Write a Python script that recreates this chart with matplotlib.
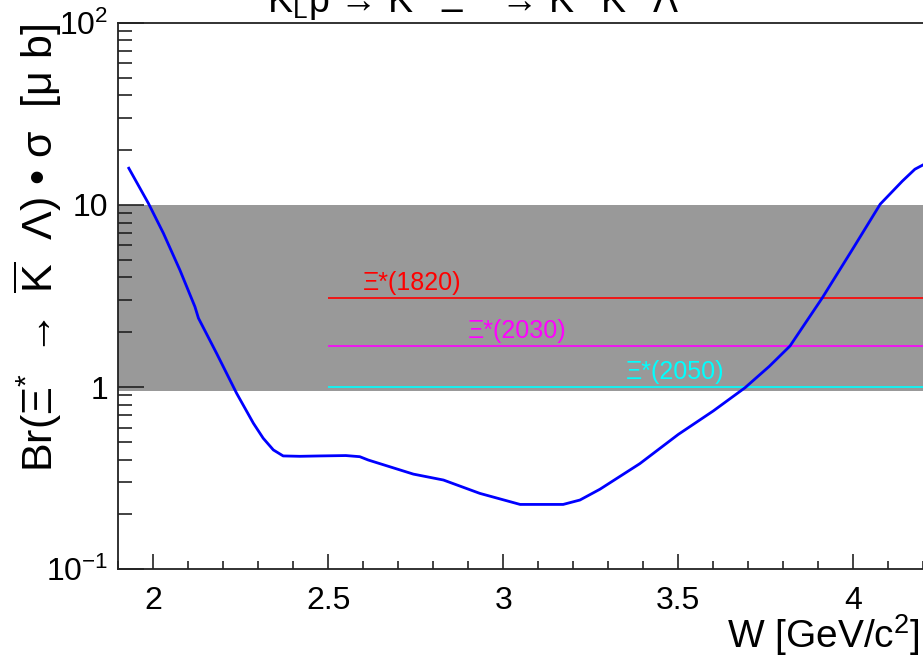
import matplotlib
matplotlib.use("Agg")
import matplotlib.pyplot as plt
from matplotlib.ticker import FixedLocator, NullFormatter, MultipleLocator, FixedFormatter

plt.rcParams['font.family'] = ['Liberation Sans', 'DejaVu Sans']
plt.rcParams['mathtext.fontset'] = 'custom'
plt.rcParams['mathtext.rm'] = 'Liberation Sans'
plt.rcParams['mathtext.it'] = 'Liberation Sans:italic'
plt.rcParams['mathtext.bf'] = 'Liberation Sans:bold'

# ---- data ----
W = [1.93, 1.986, 2.029, 2.076, 2.119, 2.129, 2.181, 2.238, 2.286, 2.314, 2.343,
     2.371, 2.419, 2.476, 2.55, 2.59, 2.614, 2.743, 2.829, 2.933, 3.048, 3.171,
     3.219, 3.276, 3.39, 3.50, 3.60, 3.69, 3.76, 3.819, 3.911, 4.0, 4.077, 4.14, 4.176, 4.21]
xsec = [15.9, 10.2, 6.98, 4.39, 2.76, 2.39, 1.53, 0.925, 0.633, 0.524, 0.452,
        0.419, 0.417, 0.419, 0.421, 0.415, 0.398, 0.333, 0.309, 0.261, 0.227, 0.227,
        0.240, 0.275, 0.38, 0.55, 0.74, 0.99, 1.3, 1.68, 3.08, 5.8, 10.1, 13.5, 15.7, 17.0]

states = ["Ξ*(1820)", "Ξ*(2030)", "Ξ*(2050)"]
state_vals = [3.08, 1.68, 1.0]
state_colors = ["#ff0000", "#ff00ff", "#00ffff"]
state_label_x = [2.6, 2.9, 3.35]
line_start = 2.5

band_low, band_high = 0.95, 10.0

xmin, xmax = 1.9, 4.4
ymin, ymax = 0.1, 100.0

ytick_vals = [0.1, 1, 10, 100]
ytick_labels = [r"$\mathregular{10^{-1}}$", "1", "10", r"$\mathregular{10^{2}}$"]

# ---- figure ----
fig = plt.figure(figsize=(9.23, 6.57), dpi=100)
L = 118.3 / 923
B = (657 - 569.3) / 657
H = (569.3 - 22.7) / 657
Wd = (xmax - xmin) * 350.0 / 923
ax = fig.add_axes([L, B, Wd, H])

ax.set_yscale('log')
ax.set_xlim(xmin, xmax)
ax.set_ylim(ymin, ymax)

ax.axhspan(band_low, band_high, color='#999999', lw=0, zorder=1)

for v, c in zip(state_vals, state_colors):
    ax.hlines(v, line_start, xmax, colors=c, lw=1.2, zorder=2)
for name, v, c, lx in zip(states, state_vals, state_colors, state_label_x):
    ax.text(lx, v * 1.035, name, color=c, fontsize=18, ha='left', va='bottom', zorder=3)

ax.plot(W, xsec, color='#0000ff', lw=2.0, zorder=4)

# ticks
ax.yaxis.set_major_locator(FixedLocator(ytick_vals))
ax.yaxis.set_major_formatter(FixedFormatter(ytick_labels))
minors = [m * 10.0 ** e for e in (-1, 0, 1) for m in range(2, 10)]
ax.yaxis.set_minor_locator(FixedLocator(minors))
ax.yaxis.set_minor_formatter(NullFormatter())
ax.xaxis.set_major_locator(MultipleLocator(0.5))
ax.xaxis.set_minor_locator(MultipleLocator(0.1))
ax.xaxis.set_major_formatter(plt.FuncFormatter(lambda x, pos: f"{x:g}"))

ax.tick_params(axis='both', which='both', direction='in', top=False, right=False,
               width=1.2, color='#222222')
ax.tick_params(axis='y', which='major', length=19, labelsize=23, pad=7)
ax.tick_params(axis='y', which='minor', length=10)
ax.tick_params(axis='x', which='major', length=11, labelsize=23, pad=12)
ax.tick_params(axis='x', which='minor', length=6)

for sp in ax.spines.values():
    sp.set_linewidth(1.3)
    sp.set_color('#222222')

# axis titles
fig.text(920 / 923, 9 / 657, r"W [GeV/c$^{\mathregular{2}}$]", fontsize=28,
         ha='right', va='baseline')
fig.text(38 / 923, (657 - 24) / 657,
         r"Br(Ξ$^{\mathregular{*}}$ $\mathregular{\rightarrow}$ $\mathregular{\overline{K}}$  Λ) • σ  [μ b]",
         fontsize=31, rotation=90, ha='center', va='top')

# title (mostly cut off at top)
fig.text(473 / 923, (657 - 13) / 657,
         r"K$_{\mathregular{L}}$p → K$^{\mathregular{+}}$ Ξ$^{\mathregular{*0}}$ → K$^{\mathregular{+}}$ K$^{\mathregular{-}}$ Λ",
         fontsize=27, ha='center', va='baseline')

fig.savefig("out.png", dpi=100)
